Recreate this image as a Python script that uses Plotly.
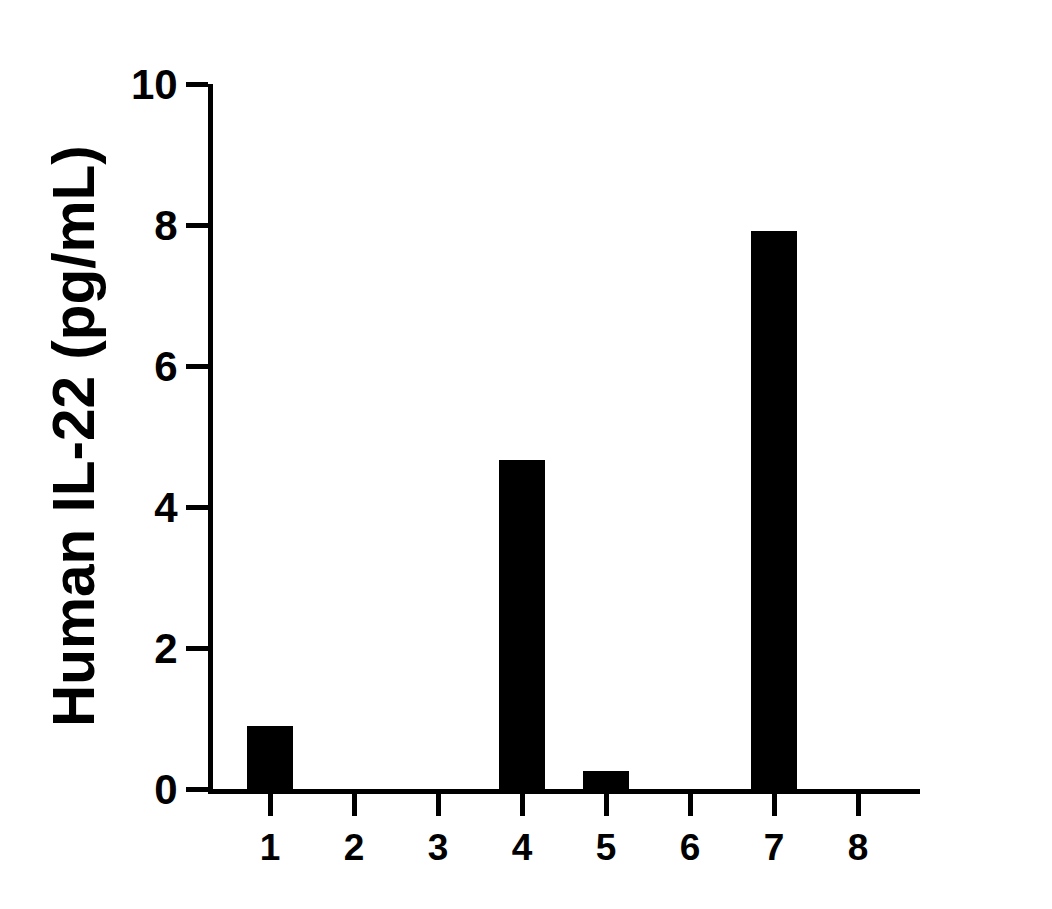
import plotly.graph_objects as go

categories = ["1", "2", "3", "4", "5", "6", "7", "8"]
positions = [1, 2, 3, 4, 5, 6, 7, 8]
values = [0.9, 0.0, 0.0, 4.66, 0.25, 0.0, 7.92, 0.0]
y_ticks = [0, 2, 4, 6, 8, 10]
y_title = "Human IL-22 (pg/mL)"

FONT = "Arial, Liberation Sans, sans-serif"

fig = go.Figure(
    go.Bar(
        x=positions,
        y=values,
        width=0.548,
        marker=dict(color="black", line=dict(width=0)),
    )
)

W, H = 1052, 909
ml, mr, mt, mb = 205, 140, 76, 128
pw = W - ml - mr
ph = H - mt - mb

fig.update_layout(
    width=W,
    height=H,
    margin=dict(l=ml, r=mr, t=mt, b=mb, autoexpand=False),
    paper_bgcolor="white",
    plot_bgcolor="white",
    showlegend=False,
    bargap=0,
)

fig.update_xaxes(
    range=[0.3214, 8.738],
    tickmode="array",
    tickvals=positions,
    ticktext=categories,
    showline=True,
    linecolor="black",
    linewidth=5,
    ticks="outside",
    ticklen=22,
    tickwidth=5,
    tickcolor="black",
    showgrid=False,
    zeroline=False,
    tickfont=dict(family=FONT, size=37, color="black", weight="bold"),
)

fig.update_yaxes(
    range=[0, 10],
    tickmode="array",
    tickvals=y_ticks,
    ticktext=[str(v) for v in y_ticks],
    showline=True,
    linecolor="black",
    linewidth=5,
    ticks="outside",
    ticklen=22,
    tickwidth=5,
    tickcolor="black",
    showgrid=False,
    zeroline=False,
    tickfont=dict(family=FONT, size=42, color="black", weight="bold"),
)

fig.add_annotation(
    text=y_title,
    textangle=-90,
    xref="paper",
    yref="paper",
    x=(65 - ml) / pw,
    y=(H - mb - 428) / ph,
    xanchor="center",
    yanchor="middle",
    showarrow=False,
    font=dict(family=FONT, size=58.5, color="black", weight="bold"),
)

fig.write_html("out.html")
